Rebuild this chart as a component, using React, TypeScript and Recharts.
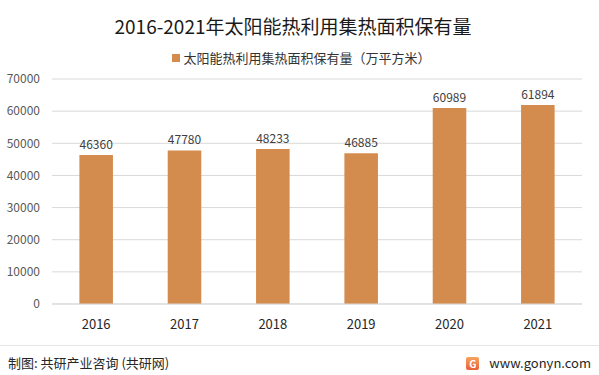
import React from "react";
import { BarChart, Bar, XAxis, YAxis, CartesianGrid, LabelList } from "recharts";

const years = ["2016", "2017", "2018", "2019", "2020", "2021"];
const areaValues = [46360, 47780, 48233, 46885, 60989, 61894];
const yTicks = [0, 10000, 20000, 30000, 40000, 50000, 60000, 70000];
const seriesName = "太阳能热利用集热面积保有量（万平方米）";
const titleText = "2016-2021年太阳能热利用集热面积保有量";
const sourceText = "制图: 共研产业咨询 (共研网)";
const siteText = "www.gonyn.com";

const data = years.map((y, i) => ({ year: y, value: areaValues[i] }));

const FONT = "'Noto Sans CJK SC', 'Noto Sans', sans-serif";
const BAR = "#D48C4E";

export default function App() {
  return (
    <div style={{ position: "absolute", left: 0, top: 0, width: 599, height: 375, background: "#fff", fontFamily: FONT, overflow: "hidden" }}>
      <div style={{ position: "absolute", left: 0, top: 12, width: 586, textAlign: "center", fontSize: 19, color: "#1a1a1a", lineHeight: "28px" }}>
        {titleText}
      </div>
      <div style={{ position: "absolute", left: 0, top: 48, width: 599, display: "flex", justifyContent: "center", alignItems: "center", fontSize: 13, color: "#333", lineHeight: "20px" }}>
        <span style={{ display: "inline-block", width: 8, height: 8, background: BAR, marginRight: 3, marginLeft: 4 }} />
        <span>{seriesName}</span>
      </div>
      <div style={{ position: "absolute", left: 0, top: 0 }}>
        <BarChart width={599} height={375} data={data} margin={{ top: 79, right: 17, bottom: 41, left: 7 }} barCategoryGap="69%">
          <CartesianGrid vertical={false} stroke="#D9D9D9" />
          <XAxis dataKey="year" height={30} axisLine={{ stroke: "#D9D9D9" }} tickLine={false} tickMargin={10} tick={{ fontSize: 13, fill: "#262626", fontFamily: FONT }} interval={0} />
          <YAxis width={45} domain={[0, 70000]} ticks={yTicks} axisLine={false} tickLine={false} tickMargin={6} tick={{ fontSize: 12, fill: "#595959", fontFamily: FONT }} interval={0} />
          <Bar dataKey="value" fill={BAR} isAnimationActive={false}>
            <LabelList dataKey="value" position="top" offset={6} style={{ fontSize: 12, fill: "#404040", fontFamily: FONT }} />
          </Bar>
        </BarChart>
      </div>
      <div style={{ position: "absolute", left: 0, top: 345, width: 599, height: 1, background: "#E6E6E6" }} />
      <div style={{ position: "absolute", left: 8, top: 353, fontSize: 13, color: "#262626", lineHeight: "20px" }}>{sourceText}</div>
      <div style={{ position: "absolute", right: 8, top: 353, display: "flex", alignItems: "center", fontSize: 13, color: "#262626", lineHeight: "20px" }}>
        <span style={{ display: "inline-block", width: 13, height: 13, background: "linear-gradient(#F7A35C, #E8603C)", borderRadius: 2, marginRight: 10, color: "#fff", fontSize: 10, lineHeight: "13px", textAlign: "center", fontWeight: 700 }}>G</span>
        <span>{siteText}</span>
      </div>
    </div>
  );
}
